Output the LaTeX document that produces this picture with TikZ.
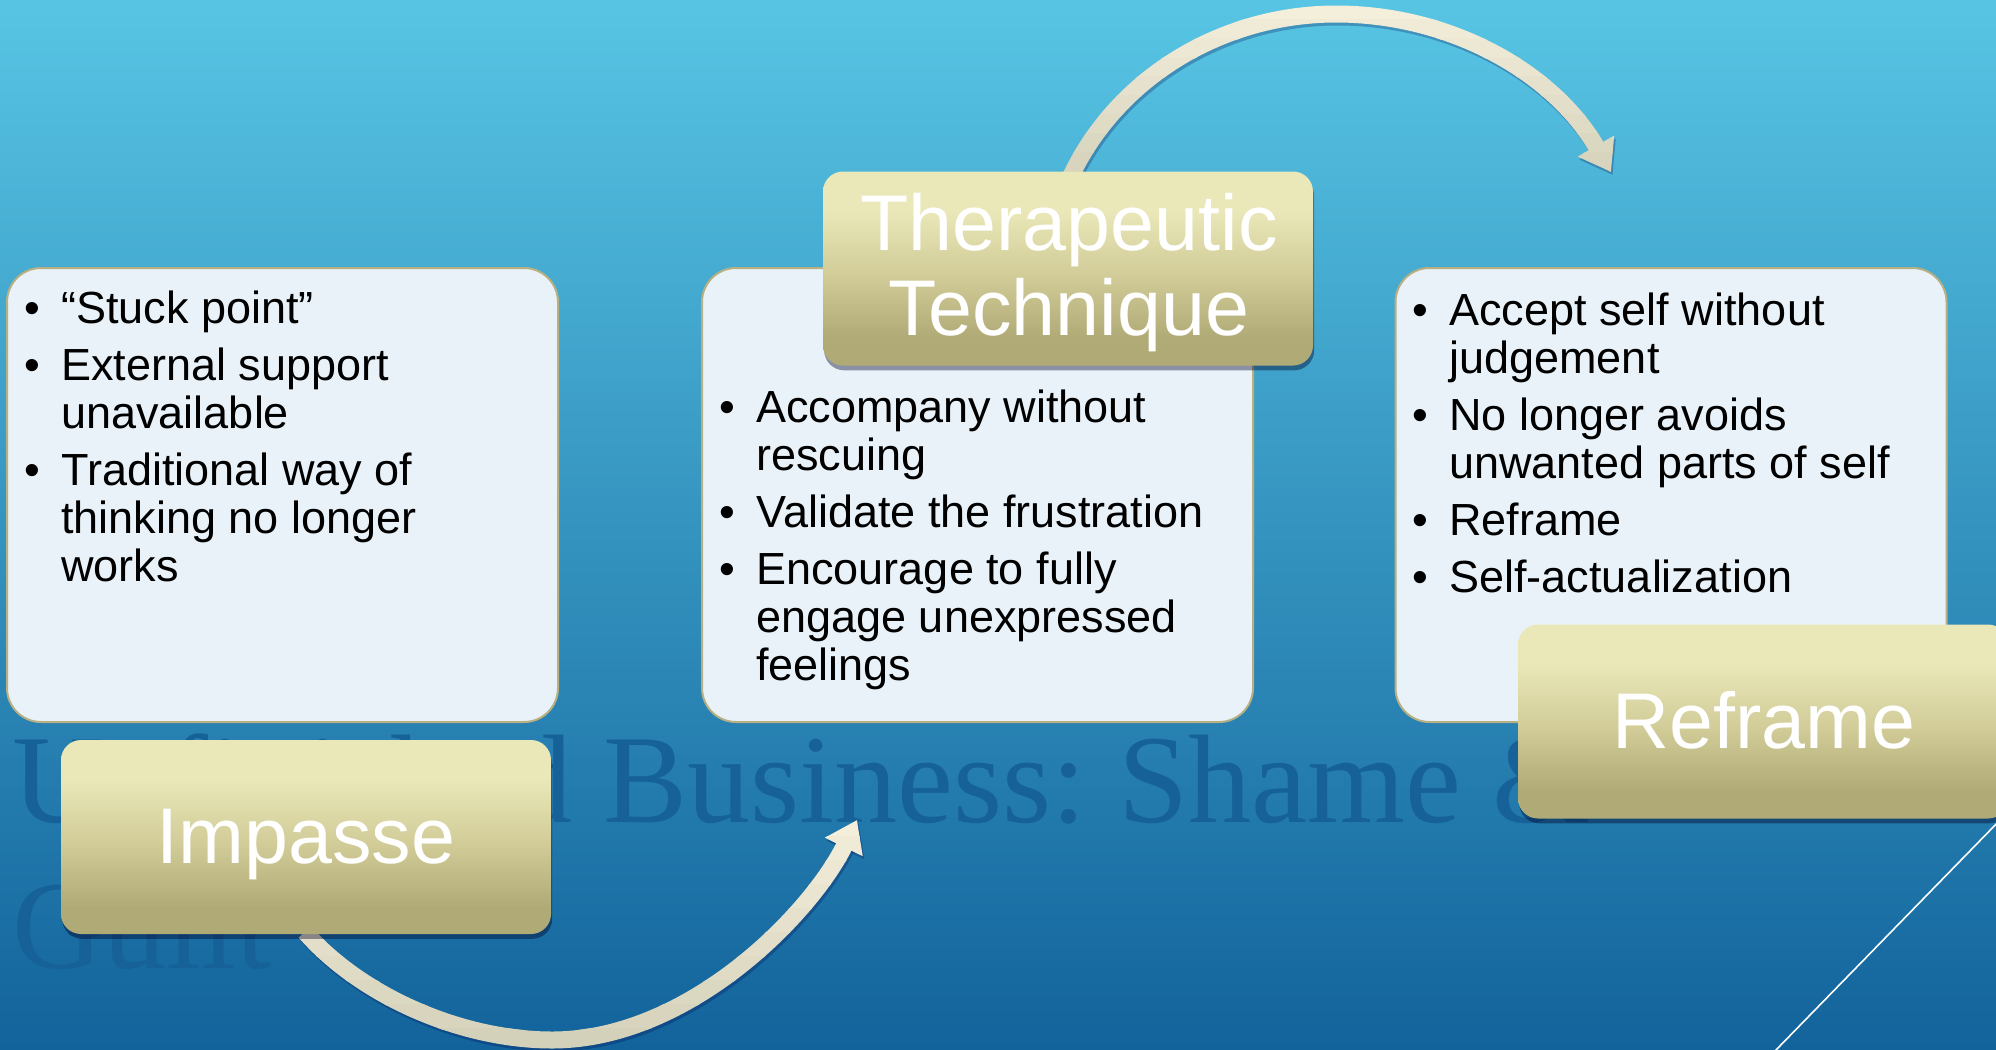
\documentclass[tikz,border=0pt]{standalone}
\usepackage{fontspec}
\setmainfont{Liberation Sans}
\newfontfamily\titlefont{Liberation Serif}
\usetikzlibrary{arrows.meta,shadows}
\frenchspacing

\definecolor{bgTop}{RGB}{88,197,228}
\definecolor{bgMid}{RGB}{44,146,197}
\definecolor{bgBot}{RGB}{18,99,155}
\definecolor{titleBlue}{RGB}{22,98,152}
\definecolor{panelFill}{RGB}{233,242,248}
\definecolor{panelEdge}{RGB}{184,176,130}
\definecolor{goldTop}{RGB}{234,232,185}
\definecolor{goldMid}{RGB}{210,205,153}
\definecolor{goldBot}{RGB}{176,171,118}
\definecolor{creamLight}{RGB}{244,239,219}
\definecolor{creamDark}{RGB}{212,209,186}

% light at the top, darker towards the bottom of the box
\pgfdeclareverticalshading{goldgrad}{100bp}{color(0bp)=(goldBot); color(32bp)=(goldBot); color(49bp)=(goldMid); color(65bp)=(goldTop); color(100bp)=(goldTop)}

\newcommand\bitem[1]{\par\hangindent=18.5pt\hangafter=1\noindent\makebox[18.5pt][l]{\textbullet}#1}

\tikzset{
  panel/.style={draw=panelEdge, line width=1pt, fill=panelFill, rounded corners=17pt,
    minimum width=275.5pt, minimum height=227pt, inner sep=0pt},
  goldbox/.style={shading=goldgrad, rounded corners=10pt, minimum width=245pt,
    minimum height=97pt, inner sep=0pt,
    drop shadow={shadow xshift=0.6pt, shadow yshift=-2.4pt, opacity=.4, fill=black!85!blue}},
  goldtext/.style={anchor=base, inner sep=0pt, text=white, font=\fontsize{39.5pt}{42pt}\selectfont},
  listtext/.style={anchor=base west, inner sep=0pt, font=\fontsize{22.5pt}{24pt}\selectfont},
  titletext/.style={anchor=base west, inner sep=0pt, text=titleBlue, font=\titlefont\fontsize{63pt}{73pt}\selectfont},
  arcarrow/.style={line width=8.5pt, -{Triangle[width=20pt,length=15pt]}},
}

\begin{document}
\begin{tikzpicture}[x=0.5pt,y=-0.5pt]
\useasboundingbox (0,0) rectangle (1996,1049);
\clip (0,0) rectangle (1996,1049);

% background
\shade[top color=bgTop, middle color=bgMid, bottom color=bgBot] (0,0) rectangle (1996,1049);

% slide title, partly covered by the diagram
\node[titletext] (title1) at (12,822) {Unfinished Business: Shame \&};
\node[titletext] (title2) at (12,968) {Guilt};

% thin decorative line
\coordinate (dl1) at (1774,1052);
\coordinate (dl2) at (2002,818);
\draw[white, line width=0.8pt] (dl1) -- (dl2);

% arrow end points
\coordinate (a1s) at (305,932);
\coordinate (a1b) at (552,1040);
\coordinate (a1e) at (857,820);
\coordinate (a2s) at (1070,178);
\coordinate (a2t) at (1336,14);
\coordinate (a2e) at (1611,172);

% arrow shadows
\begin{scope}[transform canvas={xshift=0.8pt,yshift=-1.5pt}]
  \draw[arcarrow, draw=black!70!blue, opacity=.25]
    (a1s) .. controls (360,995) and (460,1040) .. (a1b)
          .. controls (690,1040) and (812,912) .. (a1e);
  \draw[arcarrow, draw=black!70!blue, opacity=.25]
    (a2s) .. controls (1118,75) and (1225,14) .. (a2t)
          .. controls (1450,14) and (1553,72) .. (a2e);
\end{scope}

% curved arrows, shaded from light (top) to darker (bottom) in bands
\foreach \k in {0,...,9}{
  \pgfmathsetmacro\ya{812+\k*24}
  \pgfmathsetmacro\yb{812+(\k+1)*24+1}
  \pgfmathtruncatemacro\pc{100-\k*100/9}
  \begin{scope}
    \clip (-10,\ya) rectangle (2010,\yb);
    \draw[arcarrow, draw=creamLight!\pc!creamDark]
      (a1s) .. controls (360,995) and (460,1040) .. (a1b)
            .. controls (690,1040) and (812,912) .. (a1e);
  \end{scope}
  \pgfmathsetmacro\yc{\k*19}
  \pgfmathsetmacro\yd{(\k+1)*19+1}
  \begin{scope}
    \clip (-10,\yc) rectangle (2010,\yd);
    \draw[arcarrow, draw=creamLight!\pc!creamDark]
      (a2s) .. controls (1118,75) and (1225,14) .. (a2t)
            .. controls (1450,14) and (1553,72) .. (a2e);
  \end{scope}
}

% content panels
\node[panel] (p1) at (282.5,495) {};
\node[panel] (p2) at (977.5,495) {};
\node[panel] (p3) at (1671,495) {};

\node[listtext] (l1) at (24,323) {\begin{minipage}[t]{300pt}\setlength\parskip{4.5pt}%
\bitem{“Stuck point”}
\bitem{External support\newline unavailable}
\bitem{Traditional way of\newline thinking no longer\newline works}
\end{minipage}};

\node[listtext] (l2) at (719,422) {\begin{minipage}[t]{300pt}\setlength\parskip{4.5pt}%
\bitem{Accompany without\newline rescuing}
\bitem{Validate the frustration}
\bitem{Encourage to fully\newline engage unexpressed\newline feelings}
\end{minipage}};

\node[listtext] (l3) at (1412,325) {\begin{minipage}[t]{300pt}\setlength\parskip{4.5pt}%
\bitem{Accept self without\newline judgement}
\bitem{No longer avoids\newline unwanted parts of self}
\bitem{Reframe}
\bitem{Self-actualization}
\end{minipage}};

% stage labels
\node[goldbox] (imp) at (306,837) {};
\node[goldtext] (impT) at (306,863) {Impasse};

\node[goldbox] (ther) at (1068,268.5) {};
\node[goldtext] (therT1) at (1069,250) {Therapeutic};
\node[goldtext] (therT2) at (1069,335) {Technique};

\node[goldbox] (ref) at (1763,721.5) {};
\node[goldtext] (refT) at (1764,748) {Reframe};
\end{tikzpicture}
\end{document}
